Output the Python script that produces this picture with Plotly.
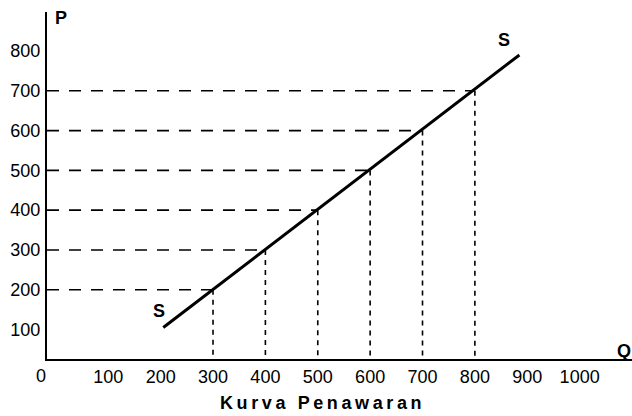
import plotly.graph_objects as go

# Data
points_q = [300, 400, 500, 600, 700, 800]
points_p = [200, 300, 400, 500, 600, 700]
line_q = [205, 885]
line_p = [105, 790]
x_ticks = [100, 200, 300, 400, 500, 600, 700, 800, 900, 1000]
y_ticks = [100, 200, 300, 400, 500, 600, 700, 800]
title_text = "Kurva Penawaran"

X_MIN, X_MAX = -17, 1100
Y_MIN, Y_MAX = 26, 898

FONT = "Liberation Sans, Arial, sans-serif"

fig = go.Figure()

# horizontal dashed guides
for q, p in zip(points_q, points_p):
    fig.add_trace(go.Scatter(x=[X_MIN, q], y=[p, p], mode="lines",
                             line=dict(color="black", width=1.6, dash="12px,10px"),
                             hoverinfo="skip", showlegend=False))
# vertical dashed guides
for q, p in zip(points_q, points_p):
    fig.add_trace(go.Scatter(x=[q, q], y=[p, Y_MIN], mode="lines",
                             line=dict(color="black", width=1.6, dash="5px,5px"),
                             hoverinfo="skip", showlegend=False))

# supply line
fig.add_trace(go.Scatter(x=line_q, y=line_p, mode="lines",
                         line=dict(color="black", width=3),
                         hoverinfo="skip", showlegend=False))

# S labels
fig.add_annotation(x=197, y=146, text="<b>S</b>", showarrow=False,
                   font=dict(family=FONT, size=18, color="black"))
fig.add_annotation(x=856, y=827, text="<b>S</b>", showarrow=False,
                   font=dict(family=FONT, size=18, color="black"))

# axis letters
fig.add_annotation(xref="paper", yref="paper", x=0, y=1, xshift=14, yshift=-6,
                   xanchor="center", yanchor="middle",
                   text="<b>P</b>", showarrow=False,
                   font=dict(family=FONT, size=18, color="black"))
fig.add_annotation(xref="paper", yref="paper", x=1, y=0, xanchor="right",
                   yanchor="middle", xshift=1, yshift=8,
                   text="<b>Q</b>", showarrow=False,
                   font=dict(family=FONT, size=18, color="black"))
# origin label
fig.add_annotation(xref="paper", yref="paper", x=0, y=0, xshift=-6, yshift=-17,
                   xanchor="center", yanchor="middle",
                   text="0", showarrow=False,
                   font=dict(family=FONT, size=18, color="black"))

# title
spaced = "\u2009".join(title_text)
fig.add_annotation(xref="paper", yref="paper", x=0.469, y=-0.127,
                   xanchor="center", yanchor="middle",
                   text="<b>" + spaced + "</b>", showarrow=False,
                   font=dict(family=FONT, size=18, color="black"))

fig.update_layout(
    width=632, height=416,
    margin=dict(l=47, r=0, t=12, b=57, autoexpand=False),
    plot_bgcolor="white", paper_bgcolor="white",
    font=dict(family=FONT, size=18, color="black"),
    xaxis=dict(range=[X_MIN, X_MAX], tickvals=x_ticks, showgrid=False,
               zeroline=False, showline=True, linecolor="black", linewidth=2,
               ticks="", ticklabelstandoff=0, automargin=False),
    yaxis=dict(range=[Y_MIN, Y_MAX], tickvals=y_ticks, showgrid=False,
               zeroline=False, showline=True, linecolor="black", linewidth=2,
               ticks="", ticklabelstandoff=1, automargin=False),
)

fig.write_html("out.html", config={"displayModeBar": False},
               post_script="document.body.style.margin='0';document.body.style.overflow='hidden';")
